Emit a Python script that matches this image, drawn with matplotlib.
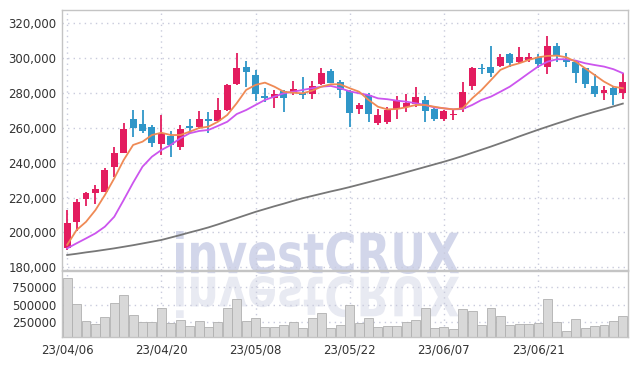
import matplotlib
matplotlib.use('Agg')
import matplotlib.pyplot as plt
import numpy as np
from matplotlib.textpath import TextPath
from matplotlib.font_manager import FontProperties
from matplotlib.patches import PathPatch
from matplotlib.transforms import Affine2D

# trading days, 2023
dates = ['04/06', '04/07', '04/10', '04/11', '04/12', '04/13', '04/14', '04/17', '04/18', '04/19',
         '04/20', '04/21', '04/24', '04/25', '04/26', '04/27', '04/28', '05/02', '05/03', '05/04',
         '05/08', '05/09', '05/10', '05/11', '05/12', '05/15', '05/16', '05/17', '05/18', '05/19',
         '05/22', '05/23', '05/24', '05/25', '05/26', '05/30', '05/31', '06/01', '06/02', '06/05',
         '06/07', '06/08', '06/09', '06/12', '06/13', '06/14', '06/15', '06/16', '06/19', '06/20',
         '06/21', '06/22', '06/23', '06/26', '06/27', '06/28', '06/29', '06/30', '07/03', '07/04']

opens = [190900, 206100, 219000, 222400, 223300, 237700, 245700, 265000, 262100, 260600,
         250500, 255400, 249100, 260800, 260200, 265000, 264000, 270100, 285000, 294600,
         290200, 278200, 277200, 281200, 279700, 279700, 279300, 285000, 292500, 286000,
         281000, 270700, 278700, 262900, 263400, 270500, 272000, 273400, 275900, 270500,
         264800, 267300, 270500, 284100, 294000, 294600, 295500, 302200, 297800, 298800,
         300700, 294600, 306800, 299200, 297800, 294000, 283900, 280100, 282600, 280100]
closes = [205200, 217400, 222400, 224900, 235800, 245500, 259100, 260000, 258300, 251100,
          256800, 249900, 259100, 259700, 264800, 263800, 270100, 284500, 294200, 291900,
          279100, 277200, 279300, 277200, 282000, 278700, 283900, 291500, 285800, 281600,
          268600, 273200, 267700, 267300, 270000, 275700, 274000, 277400, 269700, 264800,
          269400, 267900, 280300, 294000, 293500, 291500, 300300, 297200, 300300, 300300,
          296300, 307000, 301100, 297800, 291500, 284900, 279100, 281600, 278700, 286400]
highs = [212800, 219000, 223200, 227000, 237100, 249100, 262900, 270100, 270100, 261500,
         267100, 258300, 261500, 264800, 269700, 269200, 276800, 285000, 302600, 298200,
         293100, 282900, 281600, 281600, 286900, 289200, 286900, 294000, 293600, 287300,
         281600, 274000, 279700, 270700, 271700, 278300, 279100, 283100, 278200, 272000,
         270100, 270500, 286400, 294600, 296500, 307000, 302200, 303000, 306100, 302600,
         302200, 312500, 308400, 303000, 298800, 294400, 290800, 283900, 283500, 291200]
lows = [189900, 201000, 215100, 216300, 223000, 231900, 245300, 254500, 256800, 249100,
        244400, 243400, 247200, 256800, 259100, 256800, 263400, 269700, 284500, 283500,
        275500, 274900, 271100, 269200, 278700, 276300, 276300, 284500, 285400, 276800,
        260600, 267700, 263100, 261500, 262200, 264800, 269200, 272000, 263400, 264000,
        264000, 264400, 269000, 281600, 290600, 288900, 295000, 294600, 296900, 297500,
        294000, 290800, 297800, 295000, 285400, 282600, 277800, 275900, 273000, 276300]
volumes = [866000, 505000, 274000, 228000, 325000, 519000, 630000, 353000, 255000, 255000,
           450000, 241000, 283000, 200000, 269000, 181000, 255000, 450000, 575000, 274000,
           311000, 186000, 186000, 214000, 255000, 172000, 311000, 380000, 172000, 214000,
           496000, 241000, 311000, 186000, 200000, 200000, 255000, 283000, 450000, 172000,
           186000, 158000, 436000, 408000, 214000, 450000, 339000, 214000, 228000, 228000,
           246000, 575000, 260000, 135000, 297000, 172000, 200000, 214000, 274000, 339000]

ma_short = [192900, 201400, 206100, 212800, 221400, 231000, 241500, 250100, 252000, 255800,
            257100, 255800, 255800, 257700, 259800, 260600, 263400, 267300, 274000, 281600,
            284500, 285800, 283500, 280600, 280000, 279700, 281200, 283500, 284900, 284800,
            282600, 280600, 275900, 272000, 270500, 270700, 271700, 273000, 273000, 272000,
            271100, 270500, 271100, 276800, 281600, 287300, 293100, 295400, 296900, 298800,
            300300, 301100, 301300, 300300, 297800, 294000, 290200, 286400, 283500, 282600]
ma_mid = [190900, 193800, 196600, 199500, 203300, 209000, 218600, 228500, 237700, 243400,
          247200, 250100, 253900, 256800, 258100, 258700, 261000, 263400, 267800, 270100,
          273000, 275900, 277800, 279700, 280600, 281600, 282600, 283500, 283900, 282600,
          280800, 279700, 278700, 276800, 276300, 275500, 274900, 274000, 273000, 271600,
          271100, 270500, 270700, 273000, 275900, 277800, 280600, 283500, 287300, 291200,
          295000, 297800, 299200, 299200, 298400, 296900, 295900, 295000, 293500, 291200]
ma_long = [187100, 187800, 188600, 189300, 190100, 190900, 191800, 192700, 193700, 194700,
           195700, 197100, 198500, 200000, 201400, 202900, 204600, 206400, 208200, 210000,
           211800, 213400, 215000, 216500, 218100, 219600, 220900, 222200, 223500, 224700,
           226000, 227400, 228800, 230200, 231600, 233000, 234500, 236000, 237500, 239000,
           240500, 242100, 243800, 245600, 247400, 249200, 251100, 253000, 255000, 256900,
           258800, 260600, 262400, 264100, 265900, 267500, 269100, 270600, 272200, 273800]

price_ticks = [180000, 200000, 220000, 240000, 260000, 280000, 300000, 320000]
vol_ticks = [250000, 500000, 750000]
label_idx = [0, 10, 20, 30, 40, 50]

UP = '#e31c5f'
DOWN = '#2f96c8'
GRID = '#c9cbdc'
TXT = '#333333'

W, H = 637, 366
fig = plt.figure(figsize=(W / 100, H / 100), dpi=100)
fig.patch.set_facecolor('white')

ax = fig.add_axes([62 / W, (H - 270) / H, 566 / W, 260 / H])
axv = fig.add_axes([62 / W, (H - 337) / H, 566 / W, 66 / H], sharex=ax)
for a in (ax, axv):
    a.set_facecolor('none')
    for s in a.spines.values():
        s.set_color('#c4c4c4')
        s.set_linewidth(1.0)
    a.tick_params(length=0, labelsize=8.5, labelcolor=TXT, pad=4)
    a.set_axisbelow(True)

# watermark with reflection
def mark(x0, x1, y0, y1, flip, color):
    tp = TextPath((0, 0), 'investCRUX', size=50,
                  prop=FontProperties(family='DejaVu Sans', weight='bold'))
    e = tp.get_extents()
    sx = (x1 - x0) / e.width
    sy = (y1 - y0) / e.height
    if flip:
        tr = Affine2D().translate(-e.x0, -e.y0).scale(sx, -sy).translate(x0, y1)
    else:
        tr = Affine2D().translate(-e.x0, -e.y0).scale(sx, sy).translate(x0, y0)
    fig.add_artist(PathPatch(tp, transform=tr, fc=color, ec='none', zorder=-1))

mark(176, 459, H - 274, H - 231, False, '#d2d6ea')
mark(176, 459, H - 318, H - 276, True, '#e8eaf2')

x = np.arange(len(dates))
o = np.array(opens); c = np.array(closes)
colors = [UP if cc >= oo else DOWN for oo, cc in zip(o, c)]
ax.vlines(x, lows, highs, colors=colors, linewidth=1.3, zorder=2)
body = np.maximum(np.abs(c - o), 500)
ax.bar(x, body, bottom=np.minimum(o, c), width=0.74, color=colors, zorder=3)

ax.plot(x, ma_long, color='#777777', lw=1.3, zorder=4)
ax.plot(x, ma_mid, color='#cc55ee', lw=1.3, zorder=4)
ax.plot(x, ma_short, color='#ef8a55', lw=1.3, zorder=5)

ax.set_xlim(-0.55, len(dates) - 0.45)
ax.set_ylim(178500, 327400)
ax.set_yticks(price_ticks)
ax.set_yticklabels([f'{v:,}' for v in price_ticks])
ax.grid(True, color=GRID, linestyle=(0, (1, 3)), linewidth=1.0)
plt.setp(ax.get_xticklabels(), visible=False)

axv.bar(x, volumes, width=0.95, color='#d8d8d8', edgecolor='#b0b0b0', linewidth=0.6, zorder=2)
axv.set_ylim(47000, 968000)
axv.set_yticks(vol_ticks)
axv.set_yticklabels([str(v) for v in vol_ticks])
axv.set_xticks(label_idx)
axv.set_xticklabels(['23/' + dates[i] for i in label_idx])
axv.tick_params(axis='x', pad=5)
axv.grid(True, color=GRID, linestyle=(0, (1, 3)), linewidth=1.0)

fig.savefig('out.png', dpi=100)
